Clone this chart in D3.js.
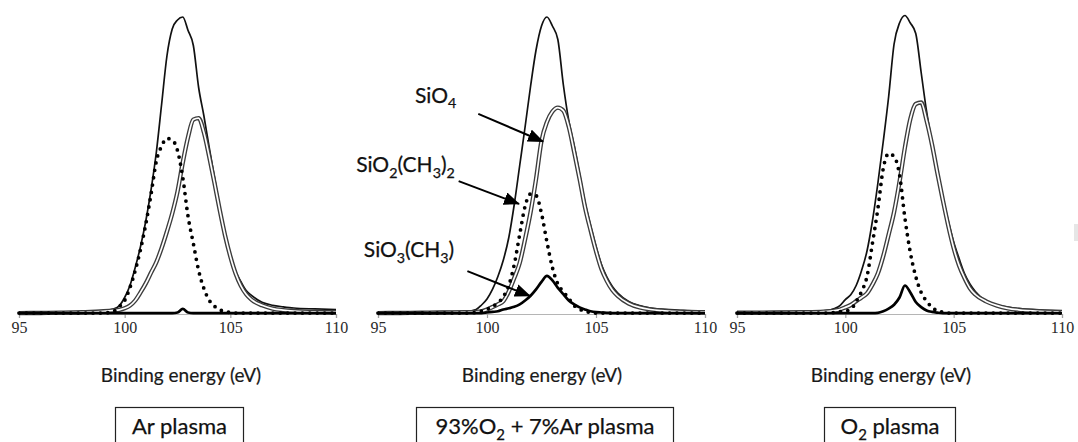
<!DOCTYPE html>
<html>
<head>
<meta charset="utf-8">
<script src="https://cdn.jsdelivr.net/npm/d3@7"></script>
<style>
  html, body { margin: 0; padding: 0; background: #fff; }
  svg { display: block; }
</style>
</head>
<body>
<svg id="chart" width="1078" height="442"></svg>
<script>
// ---------- DATA ----------
const energy = [95, 96, 97, 98, 99, 99.5, 99.75, 100, 100.25, 100.5, 100.75, 101, 101.25, 101.5, 101.75,
  102, 102.25, 102.5, 102.75, 103, 103.25, 103.5, 103.75, 104, 104.25, 104.5, 104.75, 105, 105.25,
  105.5, 105.75, 106, 106.5, 107, 107.5, 108, 109, 110];

const tickValues = [95, 100, 105, 110];
const panelNames = ["Ar plasma", "93%O2 + 7%Ar plasma", "O2 plasma"];
const axisTitle = "Binding energy (eV)";

// Ar plasma
const arEnvelope = [0.5, 0.6, 0.7, 0.8, 1.0, 1.7, 2.8, 5.5, 9.5, 15.5, 22.5, 31, 41.5, 54, 70, 86, 95, 98, 99, 94.5, 89.5, 75.5, 66, 55.5, 45.5, 35.5, 27, 20, 14.2, 10.8, 7.8, 6.2, 3.9, 2.9, 2.4, 2.0, 1.7, 1.5];
const arSiO4 = [0.3, 0.35, 0.45, 0.6, 0.9, 1.2, 1.4, 1.9, 2.8, 4.5, 7.2, 10.2, 13.8, 17.3, 22, 27.5, 33.5, 40.8, 50.5, 59, 64.8, 65.3, 60.5, 52.5, 43.7, 34.6, 26.2, 19.2, 13.5, 9.4, 6.6, 4.8, 2.9, 1.8, 1.3, 1.0, 0.7, 0.6];
const arSiO2CH3 = [0.3, 0.3, 0.3, 0.3, 0.3, 1.0, 2.5, 4.5, 8.8, 14.5, 21.5, 30, 40, 51, 56, 58.5, 58, 54.5, 45.5, 32.5, 23.5, 14.5, 8.5, 4.6, 2.6, 1.4, 0.8, 0.5, 0.3, 0.3, 0.3, 0.3, 0.3, 0.3, 0.3, 0.3, 0.3, 0.3];
const arSiO3CH3 = [0.3, 0.3, 0.3, 0.3, 0.3, 0.3, 0.3, 0.3, 0.3, 0.3, 0.3, 0.3, 0.3, 0.3, 0.3, 0.3, 0.3, 0.5, 1.7, 0.5, 0.3, 0.3, 0.3, 0.3, 0.3, 0.3, 0.3, 0.3, 0.3, 0.3, 0.3, 0.3, 0.3, 0.3, 0.3, 0.3, 0.3, 0.3];

// 93%O2 + 7%Ar plasma
const mixEnvelope = [0.5, 0.6, 0.7, 0.8, 0.8, 1.5, 3.0, 5.0, 8.2, 12.5, 18, 25.5, 36.5, 49.5, 62.5, 76, 88, 96, 99, 96, 91.5, 76.5, 64.5, 56, 46.5, 37, 29.5, 22.5, 16.5, 12.3, 9.2, 7, 4.2, 2.8, 2.0, 1.6, 1.2, 1.0];
const mixSiO4 = [0.3, 0.35, 0.4, 0.5, 0.6, 0.7, 0.9, 1.5, 2.3, 3.2, 4.3, 7.5, 12, 17, 25, 34, 45, 57.7, 64, 67.5, 68.8, 67.8, 62.5, 54, 45, 35.5, 28, 21, 15, 11, 8, 6, 3.5, 2.2, 1.5, 1.1, 0.7, 0.6];
const mixSiO2CH3 = [0.3, 0.3, 0.3, 0.3, 0.3, 0.5, 1.0, 1.6, 2.5, 3.7, 5.8, 9.5, 16.5, 26.5, 36, 40, 39.5, 33.5, 24, 15.5, 10, 7.5, 5.2, 2.8, 1.6, 0.9, 0.5, 0.3, 0.3, 0.3, 0.3, 0.3, 0.3, 0.3, 0.3, 0.3, 0.3, 0.3];
const mixSiO3CH3 = [0.3, 0.3, 0.3, 0.3, 0.3, 0.3, 0.3, 0.5, 0.7, 0.9, 1.5, 1.9, 2.4, 3.2, 4.5, 6.1, 8.2, 10.7, 12.7, 11.2, 8.7, 6.6, 4.5, 3.2, 2.2, 1.5, 0.9, 0.6, 0.5, 0.4, 0.3, 0.3, 0.3, 0.3, 0.3, 0.3, 0.3, 0.3];

// O2 plasma
const o2Envelope = [0.7, 0.7, 0.8, 0.9, 1.0, 1.8, 2.8, 4.8, 6.4, 9.5, 14.5, 21, 31, 43.5, 57.5, 72.5, 90, 97, 99.5, 97, 93.5, 80.5, 67.5, 57, 47.5, 39, 31, 24, 18.5, 13.5, 10, 7.5, 4.3, 3.0, 2.3, 1.8, 1.3, 1.0];
const o2SiO4 = [0.4, 0.45, 0.5, 0.6, 0.8, 1.1, 1.5, 2.2, 3.0, 4.3, 5.5, 6.9, 9.8, 13.5, 19.3, 26.5, 34, 44, 55.5, 65, 70, 70.5, 64.5, 56.5, 47, 38, 29.5, 22, 16.2, 12, 8.6, 6.5, 4.2, 2.8, 1.9, 1.4, 0.9, 0.7];
const o2SiO2CH3 = [0.3, 0.3, 0.3, 0.3, 0.3, 0.5, 0.8, 1.0, 1.5, 4.2, 7.5, 12.5, 23.5, 35, 48.5, 53.5, 52.5, 46.5, 32, 20.5, 12.5, 7.2, 4.3, 2.2, 1.1, 0.6, 0.3, 0.3, 0.3, 0.3, 0.3, 0.3, 0.3, 0.3, 0.3, 0.3, 0.3, 0.3];
const o2SiO3CH3 = [0.3, 0.3, 0.3, 0.3, 0.3, 0.3, 0.3, 0.3, 0.3, 0.3, 0.3, 0.3, 0.3, 0.4, 0.9, 1.8, 3.1, 5.5, 9.5, 7.2, 4.0, 2.3, 1.2, 0.7, 0.45, 0.3, 0.3, 0.3, 0.3, 0.3, 0.3, 0.3, 0.3, 0.3, 0.3, 0.3, 0.3, 0.3];

// Annotations (middle panel), in data units: [energy eV, intensity]
const annotationLabels = [
  [["SiO", false], ["4", true]],
  [["SiO", false], ["2", true], ["(CH", false], ["3", true], [")", false], ["2", true]],
  [["SiO", false], ["3", true], ["(CH", false], ["3", true], [")", false]]
];
const annotationTextAt = [[96.7, 70.5], [94.0, 47.2], [94.35, 18.9]];
const annotationFrom = [[99.6, 66.7], [98.7, 44.3], [99.1, 14.3]];
const annotationTo = [[102.57, 57.5], [101.47, 36.7], [101.97, 6.0]];

// ---------- LAYOUT ----------
const panels = [
  { name: panelNames[0], range: [19, 336], titleX: 181, box: [115, 243],
    env: arEnvelope, sio4: arSiO4, dot: arSiO2CH3, thick: arSiO3CH3, ann: false },
  { name: panelNames[1], range: [378, 705], titleX: 542, box: [416, 673],
    env: mixEnvelope, sio4: mixSiO4, dot: mixSiO2CH3, thick: mixSiO3CH3, ann: true },
  { name: panelNames[2], range: [737, 1062], titleX: 891, box: [824, 955],
    env: o2Envelope, sio4: o2SiO4, dot: o2SiO2CH3, thick: o2SiO3CH3, ann: false }
];

const sans = "Lato, 'Open Sans', sans-serif";
const svg = d3.select("#chart");
const y = d3.scaleLinear().domain([0, 100]).range([314, 14]);

const defs = svg.append("defs");
defs.append("marker")
  .attr("id", "arrowHead")
  .attr("markerUnits", "userSpaceOnUse")
  .attr("markerWidth", 16).attr("markerHeight", 13)
  .attr("refX", 15).attr("refY", 6.5)
  .attr("orient", "auto")
  .append("path").attr("d", "M0,0 L16,6.5 L0,13 Z").attr("fill", "#000");

function richText(sel, parts, size) {
  let shift = 0;
  parts.forEach(([t, sub]) => {
    const want = sub ? size * 0.28 : 0;
    const ts = sel.append("tspan").text(t).attr("dy", want - shift);
    if (sub) ts.attr("font-size", size * 0.68);
    shift = want;
  });
}

panels.forEach(p => {
  const x = d3.scaleLinear().domain([95, 110]).range(p.range);
  const g = svg.append("g");

  // axis
  const axis = d3.axisBottom(x).tickValues(tickValues).tickSize(4).tickPadding(4).tickFormat(d3.format("d"));
  const ag = g.append("g").attr("transform", `translate(0,${y(0)})`).call(axis);
  ag.select(".domain").attr("stroke", "#b5b5b5").attr("stroke-width", 1.2);
  ag.selectAll(".tick line").attr("stroke", "#a0a0a0").attr("stroke-width", 1.2);
  ag.selectAll(".tick text")
    .attr("font-family", "'Liberation Serif', 'DejaVu Serif', serif")
    .attr("font-size", 16).attr("fill", "#2a2a2a");

  const pts = arr => arr.map((v, i) => [energy[i], v]);
  const line = d3.line().x(d => x(d[0])).y(d => y(d[1])).curve(d3.curveMonotoneX);

  // envelope (measured)
  g.append("path").attr("d", line(pts(p.env)))
    .attr("fill", "none").attr("stroke", "#111").attr("stroke-width", 1.7).attr("stroke-linejoin", "round");
  // SiO4 : double line
  g.append("path").attr("d", line(pts(p.sio4)))
    .attr("fill", "none").attr("stroke", "#3c3c3c").attr("stroke-width", 4.4);
  g.append("path").attr("d", line(pts(p.sio4)))
    .attr("fill", "none").attr("stroke", "#fff").attr("stroke-width", 1.7);
  // SiO2(CH3)2 : dotted
  g.append("path").attr("d", line(pts(p.dot)))
    .attr("fill", "none").attr("stroke", "#000").attr("stroke-width", 3.8)
    .attr("stroke-linecap", "round").attr("stroke-dasharray", "0 7.4");
  // SiO3(CH3) : thick
  g.append("path").attr("d", line(pts(p.thick)))
    .attr("fill", "none").attr("stroke", "#000").attr("stroke-width", 2.7).attr("stroke-linejoin", "round");

  // axis title
  g.append("text").attr("x", p.titleX).attr("y", 382)
    .attr("text-anchor", "middle")
    .attr("font-family", sans).attr("font-size", 19).attr("fill", "#1a1a1a")
    .attr("stroke", "#1a1a1a").attr("stroke-width", 0.2)
    .text(axisTitle);

  // boxed panel name
  g.append("rect").attr("x", p.box[0] + 0.5).attr("y", 407.5)
    .attr("width", p.box[1] - p.box[0]).attr("height", 60)
    .attr("fill", "#fff").attr("stroke", "#222").attr("stroke-width", 1.2);
  const nameParts = p.name.split(/(O2)/).filter(s => s.length).flatMap(s =>
    s === "O2" ? [["O", false], ["2", true]] : [[s, false]]);
  const t = g.append("text").attr("x", (p.box[0] + p.box[1]) / 2 + 0.5).attr("y", 434)
    .attr("text-anchor", "middle")
    .attr("font-family", sans).attr("font-size", 22).attr("fill", "#111")
    .attr("stroke", "#111").attr("stroke-width", 0.25)
    .attr("xml:space", "preserve");
  richText(t, nameParts, 22);

  // annotations
  if (p.ann) {
    annotationLabels.forEach((parts, i) => {
      const tt = g.append("text")
        .attr("x", x(annotationTextAt[i][0])).attr("y", y(annotationTextAt[i][1]))
        .attr("font-family", sans).attr("font-size", 21).attr("fill", "#111")
        .attr("stroke", "#111").attr("stroke-width", 0.25);
      richText(tt, parts, 21);
      g.append("line")
        .attr("x1", x(annotationFrom[i][0])).attr("y1", y(annotationFrom[i][1]))
        .attr("x2", x(annotationTo[i][0])).attr("y2", y(annotationTo[i][1]))
        .attr("stroke", "#000").attr("stroke-width", 2)
        .attr("marker-end", "url(#arrowHead)");
    });
  }
});

// faint artefact at the right edge of the figure
svg.append("rect").attr("x", 1074).attr("y", 224).attr("width", 4).attr("height", 17).attr("fill", "#e6e6e6");
</script>
</body>
</html>
